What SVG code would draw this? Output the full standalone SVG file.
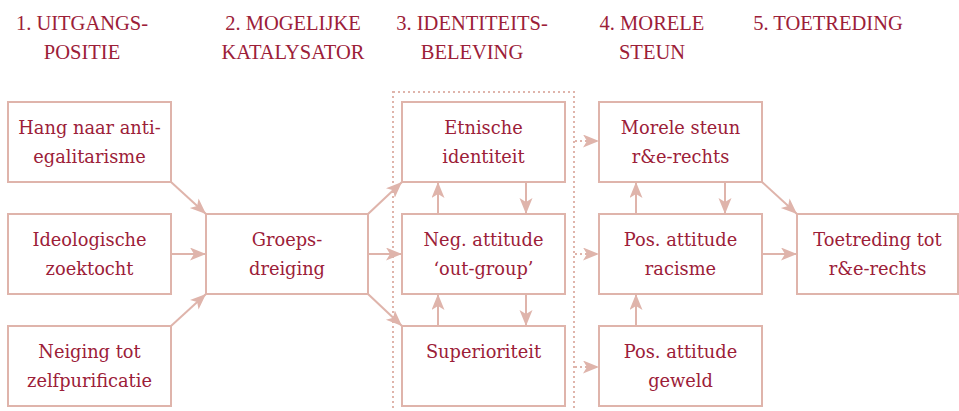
<svg xmlns="http://www.w3.org/2000/svg" width="959" height="411" viewBox="0 0 959 411">
<defs>
<style>
.hdr{font-family:"Liberation Serif","Times New Roman",serif;font-size:20.5px;fill:#9c2038;text-anchor:middle}
.lbl{font-family:"DejaVu Serif","Liberation Serif",serif;font-size:17.8px;fill:#9c2038;text-anchor:middle}
.box{fill:#ffffff;stroke:#dfb4ab;stroke-width:2}
.ln{fill:none;stroke:#dfb4ab;stroke-width:2;marker-end:url(#ah)}
.dot{fill:none;stroke:#dfb4ab;stroke-width:2;stroke-dasharray:2 3;marker-end:url(#ah)}
.frame{fill:none;stroke:#dfb4ab;stroke-width:2;stroke-dasharray:2 3}
</style>
<marker id="ah" markerUnits="userSpaceOnUse" markerWidth="18" markerHeight="15" refX="16" refY="6.5" orient="auto">
<path d="M0,0 L16,6.5 L0,13 L4,6.5 Z" fill="#dfb4ab"/>
</marker>
</defs>
<rect width="959" height="411" fill="#ffffff"/>
<g id="headers">
<text class="hdr" x="82" y="30">1. UITGANGS-</text>
<text class="hdr" x="82" y="59">POSITIE</text>
<text class="hdr" x="293" y="30">2. MOGELIJKE</text>
<text class="hdr" x="293" y="59">KATALYSATOR</text>
<text class="hdr" x="472" y="30">3. IDENTITEITS-</text>
<text class="hdr" x="472" y="59">BELEVING</text>
<text class="hdr" x="652" y="30">4. MORELE</text>
<text class="hdr" x="652" y="59">STEUN</text>
<text class="hdr" x="828" y="30">5. TOETREDING</text>
</g>
<rect id="frame" class="frame" x="393" y="92" width="181" height="322"/>
<g id="connectors">
<line class="ln" x1="171" y1="182" x2="206" y2="214"/>
<line class="ln" x1="171" y1="254" x2="206" y2="254"/>
<line class="ln" x1="171" y1="326" x2="206" y2="294"/>
<line class="ln" x1="368" y1="214" x2="402" y2="182"/>
<line class="ln" x1="368" y1="254" x2="402" y2="254"/>
<line class="ln" x1="368" y1="294" x2="402" y2="326"/>
<line class="ln" x1="438" y1="214" x2="438" y2="182"/>
<line class="ln" x1="526" y1="182" x2="526" y2="214"/>
<line class="ln" x1="438" y1="326" x2="438" y2="294"/>
<line class="ln" x1="526" y1="294" x2="526" y2="326"/>
<line class="dot" x1="575" y1="141" x2="599" y2="141"/>
<line class="dot" x1="575" y1="254" x2="599" y2="254"/>
<line class="dot" x1="575" y1="367" x2="599" y2="367"/>
<line class="ln" x1="636" y1="214" x2="636" y2="182"/>
<line class="ln" x1="725" y1="182" x2="725" y2="214"/>
<line class="ln" x1="636" y1="326" x2="636" y2="294"/>
<line class="ln" x1="762" y1="182" x2="797" y2="214"/>
<line class="ln" x1="762" y1="254" x2="797" y2="254"/>
</g>
<g id="n-anti">
<rect class="box" x="8" y="102" width="163" height="80"/>
<text class="lbl" x="89.5" y="134">Hang naar anti-</text>
<text class="lbl" x="89.5" y="163">egalitarisme</text>
</g>
<g id="n-ideo">
<rect class="box" x="8" y="214" width="163" height="80"/>
<text class="lbl" x="89.5" y="246">Ideologische</text>
<text class="lbl" x="89.5" y="275">zoektocht</text>
</g>
<g id="n-zelf">
<rect class="box" x="8" y="326" width="163" height="80"/>
<text class="lbl" x="89.5" y="358">Neiging tot</text>
<text class="lbl" x="89.5" y="387">zelfpurificatie</text>
</g>
<g id="n-groeps">
<rect class="box" x="206" y="214" width="162" height="80"/>
<text class="lbl" x="287" y="246">Groeps-</text>
<text class="lbl" x="287" y="275">dreiging</text>
</g>
<g id="n-etnisch">
<rect class="box" x="402" y="102" width="163" height="80"/>
<text class="lbl" x="483.5" y="134">Etnische</text>
<text class="lbl" x="483.5" y="163">identiteit</text>
</g>
<g id="n-neg">
<rect class="box" x="402" y="214" width="163" height="80"/>
<text class="lbl" x="483.5" y="246">Neg. attitude</text>
<text class="lbl" x="483.5" y="275">‘out-group’</text>
</g>
<g id="n-sup">
<rect class="box" x="402" y="326" width="163" height="80"/>
<text class="lbl" x="483.5" y="358">Superioriteit</text>
</g>
<g id="n-morele">
<rect class="box" x="599" y="102" width="163" height="80"/>
<text class="lbl" x="680.5" y="134">Morele steun</text>
<text class="lbl" x="680.5" y="163">r&amp;e-rechts</text>
</g>
<g id="n-racisme">
<rect class="box" x="599" y="214" width="163" height="80"/>
<text class="lbl" x="680.5" y="246">Pos. attitude</text>
<text class="lbl" x="680.5" y="275">racisme</text>
</g>
<g id="n-geweld">
<rect class="box" x="599" y="326" width="163" height="80"/>
<text class="lbl" x="680.5" y="358">Pos. attitude</text>
<text class="lbl" x="680.5" y="387">geweld</text>
</g>
<g id="n-toetreding">
<rect class="box" x="797" y="214" width="161" height="80"/>
<text class="lbl" x="877.5" y="246">Toetreding tot</text>
<text class="lbl" x="877.5" y="275">r&amp;e-rechts</text>
</g>
</svg>
